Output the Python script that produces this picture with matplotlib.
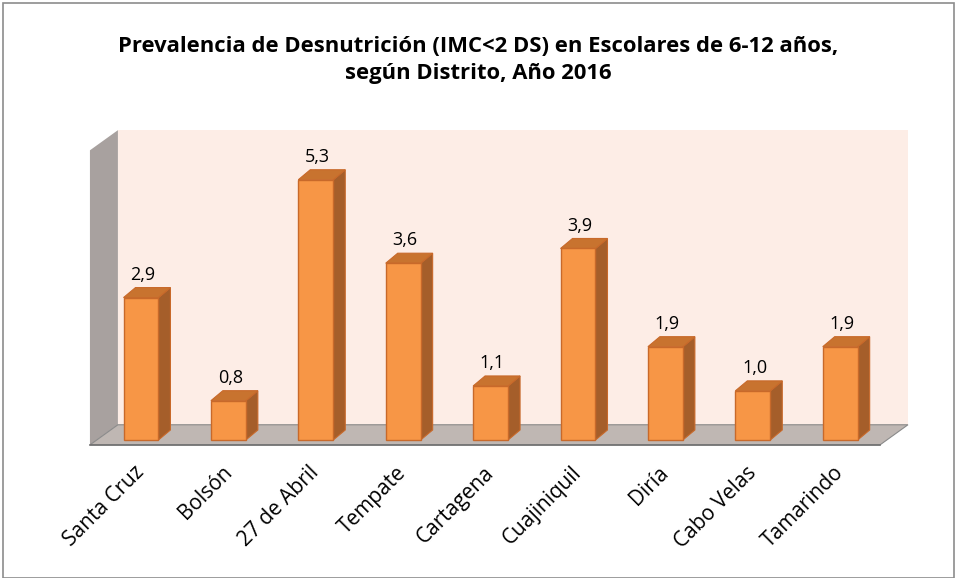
import matplotlib
matplotlib.use('Agg')
import matplotlib.pyplot as plt
from matplotlib.patches import Polygon, Rectangle

distritos = ['Santa Cruz', 'Bolsón', '27 de Abril', 'Tempate', 'Cartagena',
             'Cuajiniquil', 'Diría', 'Cabo Velas', 'Tamarindo']
prevalencia = [2.9, 0.8, 5.3, 3.6, 1.1, 3.9, 1.9, 1.0, 1.9]

titulo = ('Prevalencia de Desnutrición (IMC<2 DS) en Escolares de 6-12 años,\n'
          'según Distrito, Año 2016')

plt.rcParams['font.family'] = ['Open Sans', 'DejaVu Sans']

# colores estilo Excel
FRENTE = '#F79646'
LADO = '#A55E2A'
TAPA = '#C8732F'
BORDE = '#C8692A'
PARED = '#FDEDE6'
PARED_IZQ = '#A8A19F'
PISO = '#BFB7B3'

fig = plt.figure(figsize=(9.57, 5.78), dpi=100)
ax = fig.add_axes([0, 0, 1, 1])
ax.set_xlim(-1.613, 9.336)
ax.set_ylim(-2.811, 8.961)
ax.axis('off')

# marco de la figura
fig.patches.append(Rectangle((0.003, 0.0), 0.994, 0.995, transform=fig.transFigure,
                             fill=False, edgecolor='#8c8c8c', lw=1.2))

ancho = 0.40
dx, dy = 0.137, 0.204      # profundidad de las barras
x0, x1 = -0.584, 8.455     # borde frontal del piso
px, py = 0.32, 0.41        # profundidad de paredes
y_piso = -0.10
y_techo = 5.90

# pared de fondo
ax.add_patch(Polygon([(x0 + px, y_piso + py), (x1 + px, y_piso + py),
                      (x1 + px, y_techo + py), (x0 + px, y_techo + py)],
                     closed=True, facecolor=PARED, edgecolor='none'))
# pared izquierda
ax.add_patch(Polygon([(x0, y_piso), (x0 + px, y_piso + py),
                      (x0 + px, y_techo + py), (x0, y_techo)],
                     closed=True, facecolor=PARED_IZQ, edgecolor='none'))
# piso
ax.add_patch(Polygon([(x0, y_piso), (x1, y_piso), (x1 + px, y_piso + py),
                      (x0 + px, y_piso + py)],
                     closed=True, facecolor=PISO, edgecolor='#8a8a8a', lw=0.8))
ax.plot([x0, x1], [y_piso, y_piso], color='#707070', lw=1.2)

for i, v in enumerate(prevalencia):
    l, r = i - ancho / 2, i + ancho / 2
    ax.add_patch(Polygon([(r, 0), (r + dx, dy), (r + dx, v + dy), (r, v)],
                         closed=True, facecolor=LADO, edgecolor=BORDE, lw=0.8))
    ax.add_patch(Polygon([(l, v), (l + dx, v + dy), (r + dx, v + dy), (r, v)],
                         closed=True, facecolor=TAPA, edgecolor=BORDE, lw=0.8))
    ax.add_patch(Rectangle((l, 0), ancho, v, facecolor=FRENTE,
                           edgecolor=BORDE, lw=1.0))
    ax.text(i + 0.02, v + dy + 0.08, f'{v:.1f}'.replace('.', ','),
            ha='center', va='bottom', fontsize=13, color='black')
    ax.text(i - 0.08, -0.45, distritos[i], rotation=45, rotation_mode='anchor',
            ha='right', va='top', fontsize=15, color='black')

fig.text(0.5, 1 - 60 / 578, titulo, ha='center', va='center', fontsize=15.8,
         fontweight='bold', linespacing=1.4)

fig.savefig('out.png', dpi=100)
